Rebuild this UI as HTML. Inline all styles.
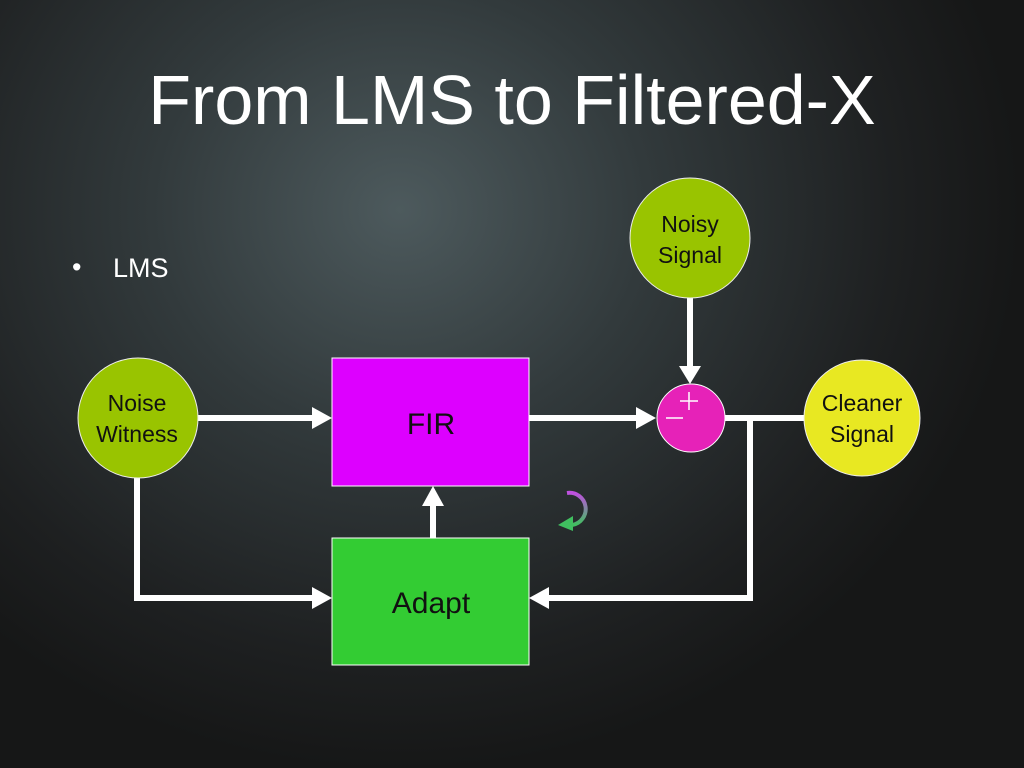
<!DOCTYPE html>
<html><head><style>
html,body{margin:0;padding:0;}
body{width:1024px;height:768px;overflow:hidden;background:radial-gradient(ellipse 620px 560px at 400px 210px,#4d5a5d 0%,#323a3c 40%,#1e2021 80%,#161717 100%);font-family:"Liberation Sans",sans-serif;position:relative;}
</style></head><body>
<div style="position:absolute;left:0;width:1024px;top:60px;text-align:center;font-size:70px;color:#fff;">From LMS to Filtered-X</div>
<div style="position:absolute;left:72px;top:252px;font-size:27px;color:#fff;">•</div>
<div style="position:absolute;left:113px;top:253px;font-size:27px;color:#fff;">LMS</div>
<svg width="1024" height="768" style="position:absolute;left:0;top:0">
<defs><linearGradient id="g" x1="0" y1="0" x2="0" y2="1"><stop offset="0" stop-color="#c050e0"/><stop offset="1" stop-color="#40c060"/></linearGradient></defs>
<g stroke="#fff" stroke-width="6" fill="none">
<line x1="198" y1="418" x2="316" y2="418"/>
<polyline points="137,478 137,598 316,598"/>
<line x1="529" y1="418" x2="640" y2="418"/>
<line x1="690" y1="298" x2="690" y2="368"/>
<line x1="724" y1="418" x2="804" y2="418"/>
<polyline points="750,418 750,598 546,598"/>
<line x1="433" y1="538" x2="433" y2="503"/>
</g>
<g fill="#fff">
<polygon points="312,407 332,418 312,429"/>
<polygon points="312,587 332,598 312,609"/>
<polygon points="636,407 656,418 636,429"/>
<polygon points="679,366 690,384 701,366"/>
<polygon points="549,587 529,598 549,609"/>
<polygon points="422,506 433,486 444,506"/>
</g>
<rect x="332" y="358" width="197" height="128" fill="#dd00ff" stroke="#fff" stroke-width="1"/>
<text x="431" y="434" font-size="30" text-anchor="middle" fill="#111">FIR</text>
<rect x="332" y="538" width="197" height="127" fill="#33cc33" stroke="#fff" stroke-width="1"/>
<text x="431" y="613" font-size="30" text-anchor="middle" fill="#111">Adapt</text>
<circle cx="138" cy="418" r="60" fill="#99c400" stroke="#eee" stroke-width="1"/>
<text x="137" y="411" font-size="23" text-anchor="middle" fill="#111">Noise</text>
<text x="137" y="442" font-size="23" text-anchor="middle" fill="#111">Witness</text>
<circle cx="690" cy="238" r="60" fill="#99c400" stroke="#eee" stroke-width="1"/>
<text x="690" y="232" font-size="23" text-anchor="middle" fill="#111">Noisy</text>
<text x="690" y="263" font-size="23" text-anchor="middle" fill="#111">Signal</text>
<circle cx="862" cy="418" r="58" fill="#e8e822" stroke="#eee" stroke-width="1"/>
<text x="862" y="411" font-size="23" text-anchor="middle" fill="#111">Cleaner</text>
<text x="862" y="442" font-size="23" text-anchor="middle" fill="#111">Signal</text>
<circle cx="691" cy="418" r="34" fill="#e622b8" stroke="#fff" stroke-width="1"/>
<g stroke="#fff" stroke-width="1.5"><line x1="680" y1="401" x2="698" y2="401"/><line x1="689" y1="392" x2="689" y2="410"/><line x1="666" y1="418" x2="683" y2="418"/></g>
<path d="M567,493 A15,15 0 1 1 572,525" stroke="url(#g)" stroke-width="4" fill="none"/>
<polygon points="558,525 573,516 573,531" fill="#40c060"/>
</svg>
</body></html>
